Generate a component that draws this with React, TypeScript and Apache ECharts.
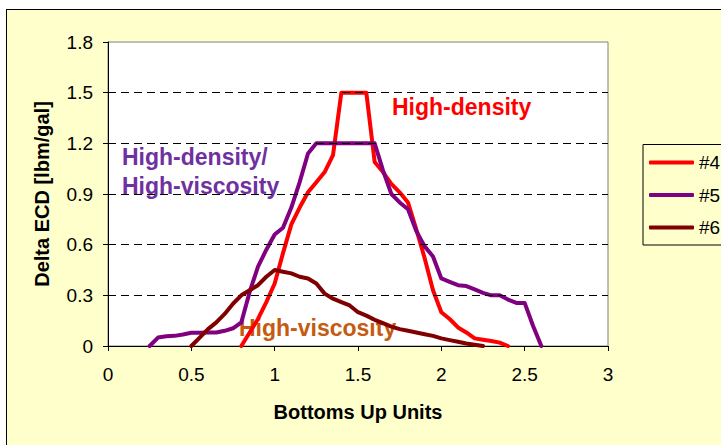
import React, { useEffect, useRef } from "react";
import * as echarts from "echarts";

const xTickValues = [0, 0.5, 1, 1.5, 2, 2.5, 3];
const yTickValues = [0, 0.3, 0.6, 0.9, 1.2, 1.5, 1.8];
const gridLevels = [0.3, 0.6, 0.9, 1.2, 1.5];

const seriesNames = ["#4", "#5", "#6"];
const seriesColors = ["#FF0000", "#800080", "#800000"];

const series4 = [
  [0.8, 0], [0.85, 0.08], [0.9, 0.16], [0.95, 0.26], [1.0, 0.37], [1.05, 0.55],
  [1.1, 0.72], [1.15, 0.82], [1.2, 0.91], [1.25, 0.97], [1.3, 1.03], [1.35, 1.13],
  [1.4, 1.5], [1.55, 1.5], [1.6, 1.09], [1.65, 1.03], [1.7, 0.96], [1.75, 0.91],
  [1.8, 0.85], [1.85, 0.69], [1.9, 0.52], [1.95, 0.33], [2.0, 0.2], [2.05, 0.16],
  [2.1, 0.11], [2.15, 0.08], [2.2, 0.045], [2.25, 0.037], [2.3, 0.03], [2.35, 0.02],
  [2.4, 0],
];

const series5 = [
  [0.25, 0], [0.3, 0.05], [0.35, 0.058], [0.4, 0.06], [0.45, 0.068], [0.5, 0.078],
  [0.55, 0.078], [0.6, 0.08], [0.65, 0.08], [0.7, 0.09], [0.75, 0.105], [0.8, 0.14],
  [0.85, 0.32], [0.9, 0.47], [0.95, 0.57], [1.0, 0.66], [1.05, 0.7], [1.1, 0.82],
  [1.15, 0.97], [1.2, 1.14], [1.25, 1.2], [1.6, 1.2], [1.65, 1.04], [1.7, 0.9],
  [1.75, 0.85], [1.8, 0.81], [1.85, 0.68], [1.9, 0.59], [1.95, 0.53], [2.0, 0.4],
  [2.05, 0.38], [2.1, 0.36], [2.15, 0.355], [2.2, 0.335], [2.25, 0.315], [2.3, 0.3],
  [2.35, 0.3], [2.4, 0.275], [2.45, 0.255], [2.5, 0.255], [2.55, 0.12], [2.6, 0],
];

const series6 = [
  [0.5, 0], [0.55, 0.05], [0.6, 0.1], [0.65, 0.14], [0.7, 0.19], [0.75, 0.25],
  [0.8, 0.3], [0.85, 0.33], [0.9, 0.36], [0.95, 0.41], [1.0, 0.45], [1.05, 0.44],
  [1.1, 0.43], [1.15, 0.41], [1.2, 0.4], [1.25, 0.37], [1.3, 0.31], [1.35, 0.28],
  [1.4, 0.26], [1.45, 0.24], [1.5, 0.2], [1.55, 0.18], [1.6, 0.155], [1.65, 0.135],
  [1.7, 0.115], [1.75, 0.1], [1.8, 0.09], [1.85, 0.08], [1.9, 0.07], [1.95, 0.06],
  [2.0, 0.045], [2.05, 0.035], [2.1, 0.025], [2.15, 0.015], [2.2, 0.007], [2.25, 0],
];

const FONT = '"Liberation Sans", Arial, sans-serif';

export default function App() {
  const ref = useRef<HTMLDivElement>(null);

  useEffect(() => {
    const chart = echarts.init(ref.current as HTMLDivElement, null, { renderer: "svg" });
    const allData = [series4, series5, series6];
    const option: any = {
      animation: false,
      backgroundColor: "#FFFFCC",
      grid: {
        left: 108,
        top: 42,
        width: 500,
        height: 304,
        show: true,
        backgroundColor: "#FFFFFF",
        borderColor: "#808080",
        borderWidth: 1,
      },
      xAxis: {
        type: "value",
        min: xTickValues[0],
        max: xTickValues[xTickValues.length - 1],
        interval: 0.5,
        name: "Bottoms Up Units",
        nameLocation: "middle",
        nameGap: 56,
        nameTextStyle: { fontFamily: FONT, fontWeight: "bold", fontSize: 20, color: "#000", lineHeight: 20 },
        axisLine: { show: true, onZero: false, lineStyle: { color: "#000", width: 1 } },
        axisTick: { show: true, inside: false, length: 5, lineStyle: { color: "#000" } },
        axisLabel: { fontFamily: FONT, fontSize: 19, color: "#000", margin: 19, lineHeight: 19 },
        splitLine: { show: false },
      },
      yAxis: {
        type: "value",
        min: yTickValues[0],
        max: yTickValues[yTickValues.length - 1],
        interval: 0.3,
        name: "Delta ECD [lbm/gal]",
        nameLocation: "middle",
        nameGap: 56,
        nameTextStyle: { fontFamily: FONT, fontWeight: "bold", fontSize: 20, color: "#000", lineHeight: 20 },
        axisLine: { show: true, onZero: false, lineStyle: { color: "#000", width: 1 } },
        axisTick: { show: true, inside: false, length: 5, lineStyle: { color: "#000" } },
        axisLabel: { fontFamily: FONT, fontSize: 19, color: "#000", margin: 15 },
        splitLine: { show: false },
      },
      legend: {
        orient: "vertical",
        left: 643,
        top: 144.5,
        padding: [8.5, 6, 8, 6],
        itemGap: 13.5,
        itemWidth: 45,
        itemHeight: 4,
        icon: "roundRect",
        backgroundColor: "#FFFFCC",
        borderColor: "#000",
        borderWidth: 1,
        borderRadius: 0,
        data: seriesNames,
        textStyle: { fontFamily: FONT, fontSize: 19, color: "#000", lineHeight: 19 },
      },
      graphic: [
        { type: "rect", z: 0, shape: { x: 0, y: 0, width: 721, height: 9 }, style: { fill: "#FFFFFF" } },
        { type: "rect", z: 0, shape: { x: 0, y: 0, width: 6, height: 445 }, style: { fill: "#FFFFFF" } },
        { type: "line", z: 0, shape: { x1: 6, y1: 9.5, x2: 721, y2: 9.5 }, style: { stroke: "#000", lineWidth: 1 } },
        { type: "line", z: 0, shape: { x1: 6.5, y1: 9, x2: 6.5, y2: 445 }, style: { stroke: "#000", lineWidth: 1 } },
        {
          type: "text", z: 1, x: 392, y: 95,
          style: { text: "High-density", fill: "#FF0000", font: `bold 23px ${FONT}`, verticalAlign: "top" },
        },
        {
          type: "text", z: 1, x: 122, y: 145,
          style: { text: "High-density/", fill: "#7030A0", font: `bold 23px ${FONT}`, verticalAlign: "top" },
        },
        {
          type: "text", z: 1, x: 122, y: 174.5,
          style: { text: "High-viscosity", fill: "#7030A0", font: `bold 23px ${FONT}`, verticalAlign: "top" },
        },
        {
          type: "text", z: 1, x: 239, y: 316,
          style: { text: "High-viscosity", fill: "#C55A11", font: `bold 23px ${FONT}`, verticalAlign: "top" },
        },
      ],
      series: [
        {
          name: "grid",
          type: "line",
          data: [],
          z: 1,
          silent: true,
          markLine: {
            silent: true,
            symbol: ["none", "none"],
            label: { show: false },
            lineStyle: { color: "#000", type: [8, 5], width: 1 },
            data: gridLevels.map((v) => ({ yAxis: v })),
          },
        },
        ...seriesNames.map((name, i) => ({
          name,
          type: "line",
          data: allData[i],
          showSymbol: false,
          symbol: "none",
          z: 3 + i,
          color: seriesColors[i],
          lineStyle: { color: seriesColors[i], width: 4, cap: "round", join: "round" },
        })),
      ],
    };
    chart.setOption(option);
    return () => chart.dispose();
  }, []);

  return (
    <div
      ref={ref}
      style={{ position: "absolute", left: 0, top: 0, width: 721, height: 445 }}
    />
  );
}
